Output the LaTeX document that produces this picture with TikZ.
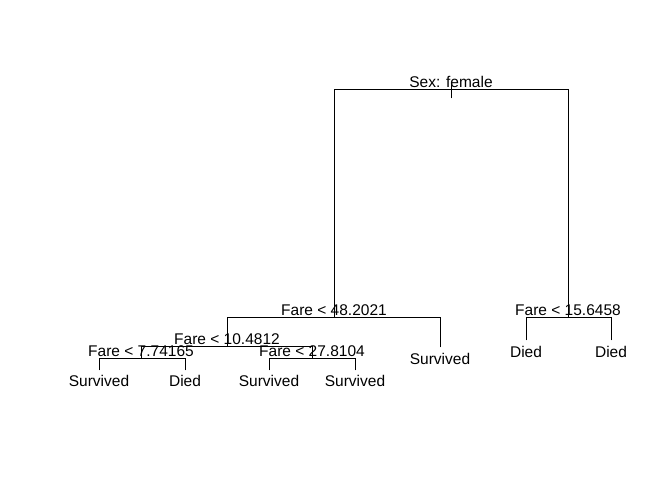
\documentclass[tikz,border=0pt]{standalone}
\usepackage{fontspec}
\setmainfont{Liberation Sans}
\begin{document}
\begin{tikzpicture}[x=1pt,y=-1pt,line width=0.9pt,
  split/.style={anchor=base,inner sep=0pt,font=\fontsize{15.5}{16}\selectfont},
  leaf/.style={anchor=base,inner sep=0pt,font=\fontsize{15.5}{16}\selectfont},
  edge/.style={draw=black,line cap=rect}]
\useasboundingbox[fill=white] (0,0) rectangle (672,480);
% tree points
\coordinate (top) at (451,83);
\coordinate (root) at (451,89);
\coordinate (rootlow) at (451,98);
\coordinate (n2) at (334,317);
\coordinate (n3) at (568,317);
\coordinate (n4) at (227,346);
\coordinate (n5) at (440,347);
\coordinate (n6) at (526,340);
\coordinate (n7) at (611,340);
\coordinate (n8) at (141,358);
\coordinate (n9) at (312,358);
\coordinate (n16) at (99,370);
\coordinate (n17) at (185,370);
\coordinate (n18) at (269,370);
\coordinate (n19) at (355,370);
% edges
\draw[edge] (top) -- (rootlow);
\draw[edge] (root) -| (n2);
\draw[edge] (root) -| (n3);
\draw[edge] (n2) -| (n4);
\draw[edge] (n2) -| (n5);
\draw[edge] (n3) -| (n6);
\draw[edge] (n3) -| (n7);
\draw[edge] (n4) -| (n8);
\draw[edge] (n4) -| (n9);
\draw[edge] (n8) -| (n16);
\draw[edge] (n8) -| (n17);
\draw[edge] (n9) -| (n18);
\draw[edge] (n9) -| (n19);
% split labels
\node[split] (l1) at (451,87) {Sex: female};
\node[split] (l2) at (334,315) {Fare < 48.2021};
\node[split] (l3) at (568,315) {Fare < 15.6458};
\node[split] (l4) at (227,344) {Fare < 10.4812};
\node[split] (l8) at (141,356) {Fare < 7.74165};
\node[split] (l9) at (312,356) {Fare < 27.8104};
% leaf labels
\node[leaf] (t5) at (440,364) {Survived};
\node[leaf] (t6) at (526,357) {Died};
\node[leaf] (t7) at (611,357) {Died};
\node[leaf] (t16) at (99,386) {Survived};
\node[leaf] (t17) at (185,386) {Died};
\node[leaf] (t18) at (269,386) {Survived};
\node[leaf] (t19) at (355,386) {Survived};
\end{tikzpicture}
\end{document}
